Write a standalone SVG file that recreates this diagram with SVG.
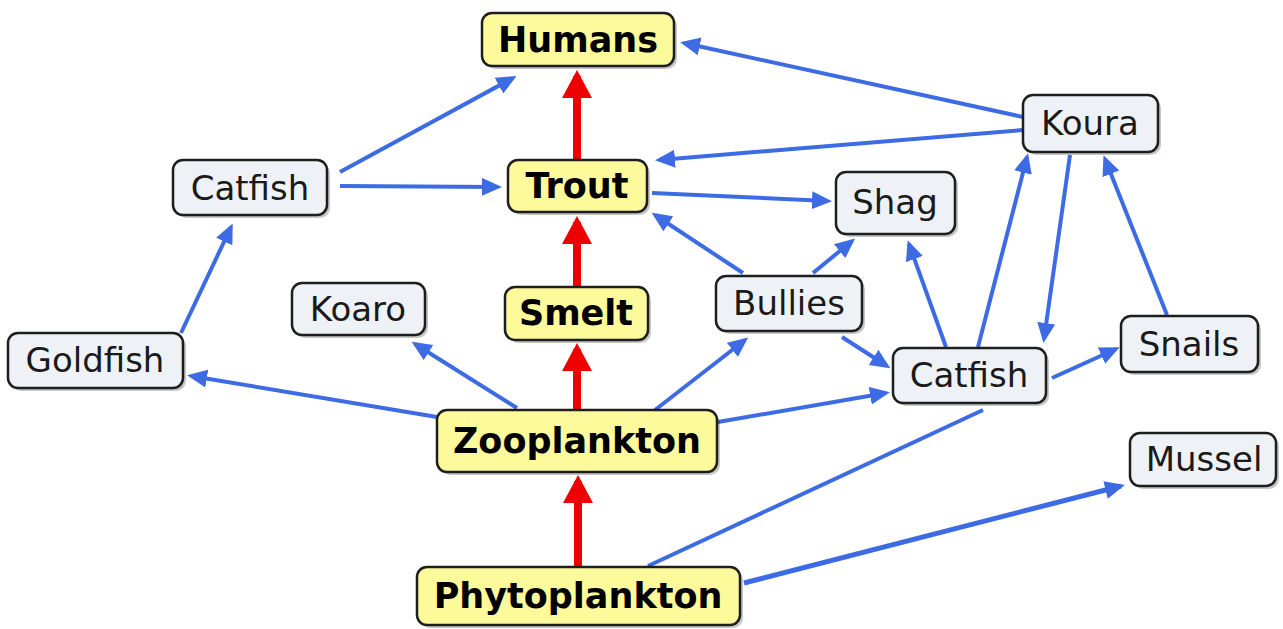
<svg xmlns="http://www.w3.org/2000/svg" width="1283" height="629" viewBox="0 0 1283 629">
<style>
.box{fill:#eef2f6;stroke:#1e1e1e;stroke-width:2.5}
.key{fill:#fdfa9c;stroke:#1e1e1e;stroke-width:2.5}
.sh{fill:#000;opacity:0.22}
.t{font-family:"DejaVu Sans",Verdana,sans-serif;font-size:34px;fill:#1a1a1a;text-anchor:middle}
.b{font-weight:bold;fill:#000;font-size:35px}
.bl{stroke:#3c6be4;stroke-width:4;fill:none;marker-end:url(#ab)}
.rd{stroke:#ee0000;stroke-width:8;fill:none;marker-end:url(#ar)}
</style>
<defs>
<marker id="ab" markerUnits="userSpaceOnUse" markerWidth="24" markerHeight="20" refX="16" refY="9" orient="auto">
<path d="M0,0 L20,9 L0,18 z" fill="#3c6be4"/>
</marker>
<marker id="ar" markerUnits="userSpaceOnUse" markerWidth="30" markerHeight="32" refX="22" refY="15" orient="auto">
<path d="M0,0 L28,15 L0,30 z" fill="#ee0000"/>
</marker>
</defs>
<rect width="1283" height="629" fill="#fff"/>
<g id="connectors">
<line class="bl" x1="340" y1="172" x2="513" y2="78"/>
<line class="bl" x1="340" y1="186" x2="498" y2="187"/>
<line class="bl" x1="181" y1="333" x2="231" y2="227"/>
<line class="bl" x1="1023" y1="117" x2="684" y2="43"/>
<line class="bl" x1="1023" y1="130" x2="659" y2="160"/>
<line class="bl" x1="652" y1="193" x2="828" y2="201"/>
<line class="bl" x1="743" y1="273" x2="655" y2="215"/>
<line class="bl" x1="813" y1="273" x2="852" y2="241"/>
<line class="bl" x1="842" y1="337" x2="887" y2="366"/>
<line class="bl" x1="946" y1="347" x2="909" y2="244"/>
<line class="bl" x1="978" y1="347" x2="1027" y2="157"/>
<line class="bl" x1="1070" y1="155" x2="1044" y2="339"/>
<line class="bl" x1="1167" y1="315" x2="1105" y2="159"/>
<line class="bl" x1="1052" y1="378" x2="1116" y2="349"/>
<line class="bl" x1="437" y1="417" x2="191" y2="376"/>
<line class="bl" x1="517" y1="408" x2="415" y2="344"/>
<line class="bl" x1="655" y1="410" x2="745" y2="340"/>
<line class="bl" x1="718" y1="422" x2="886" y2="393"/>
<line stroke="#3c6be4" stroke-width="4" x1="648" y1="566" x2="983" y2="410"/>
<line class="bl" style="stroke-width:5" x1="744" y1="583" x2="1121" y2="486"/>
<line class="rd" x1="577" y1="160" x2="577" y2="76"/>
<line class="rd" x1="577" y1="287" x2="577" y2="222"/>
<line class="rd" x1="577" y1="410" x2="577" y2="349"/>
<line class="rd" x1="578" y1="567" x2="578" y2="481"/>
</g>
<g id="humans"><rect class="sh" x="485" y="16" width="192" height="53" rx="10"/><rect class="key" x="482" y="13" width="192" height="53" rx="10"/><text class="t b" x="578" y="52">Humans</text></g>
<g id="catfish-left"><rect class="sh" x="176" y="163" width="154" height="55" rx="10"/><rect class="box" x="173" y="160" width="154" height="55" rx="10"/><text class="t" x="250" y="200">Catfish</text></g>
<g id="trout"><rect class="sh" x="511" y="163" width="139" height="52" rx="10"/><rect class="key" x="508" y="160" width="139" height="52" rx="10"/><text class="t b" x="577" y="198">Trout</text></g>
<g id="koura"><rect class="sh" x="1026" y="98" width="135" height="57" rx="10"/><rect class="box" x="1023" y="95" width="135" height="57" rx="10"/><text class="t" x="1090" y="135">Koura</text></g>
<g id="shag"><rect class="sh" x="839" y="175" width="119" height="62" rx="10"/><rect class="box" x="836" y="172" width="119" height="62" rx="10"/><text class="t" x="895" y="214">Shag</text></g>
<g id="koaro"><rect class="sh" x="295" y="286" width="133" height="52" rx="10"/><rect class="box" x="292" y="283" width="133" height="52" rx="10"/><text class="t" x="358" y="321">Koaro</text></g>
<g id="smelt"><rect class="sh" x="508" y="290" width="143" height="53" rx="10"/><rect class="key" x="505" y="287" width="143" height="53" rx="10"/><text class="t b" x="576" y="325">Smelt</text></g>
<g id="bullies"><rect class="sh" x="719" y="279" width="146" height="55" rx="10"/><rect class="box" x="716" y="276" width="146" height="55" rx="10"/><text class="t" x="789" y="315">Bullies</text></g>
<g id="goldfish"><rect class="sh" x="11" y="336" width="175" height="55" rx="10"/><rect class="box" x="8" y="333" width="175" height="55" rx="10"/><text class="t" x="95" y="372">Goldfish</text></g>
<g id="catfish-right"><rect class="sh" x="896" y="351" width="153" height="55" rx="10"/><rect class="box" x="893" y="348" width="153" height="55" rx="10"/><text class="t" x="969" y="387">Catfish</text></g>
<g id="snails"><rect class="sh" x="1124" y="319" width="137" height="56" rx="10"/><rect class="box" x="1121" y="316" width="137" height="56" rx="10"/><text class="t" x="1189" y="356">Snails</text></g>
<g id="zooplankton"><rect class="sh" x="440" y="413" width="280" height="62" rx="10"/><rect class="key" x="437" y="410" width="280" height="62" rx="10"/><text class="t b" x="577" y="453">Zooplankton</text></g>
<g id="mussel"><rect class="sh" x="1133" y="436" width="146" height="53" rx="10"/><rect class="box" x="1130" y="433" width="146" height="53" rx="10"/><text class="t" x="1204" y="471">Mussel</text></g>
<g id="phytoplankton"><rect class="sh" x="420" y="570" width="323" height="58" rx="10"/><rect class="key" x="417" y="567" width="323" height="58" rx="10"/><text class="t b" x="578" y="608">Phytoplankton</text></g>
</svg>
